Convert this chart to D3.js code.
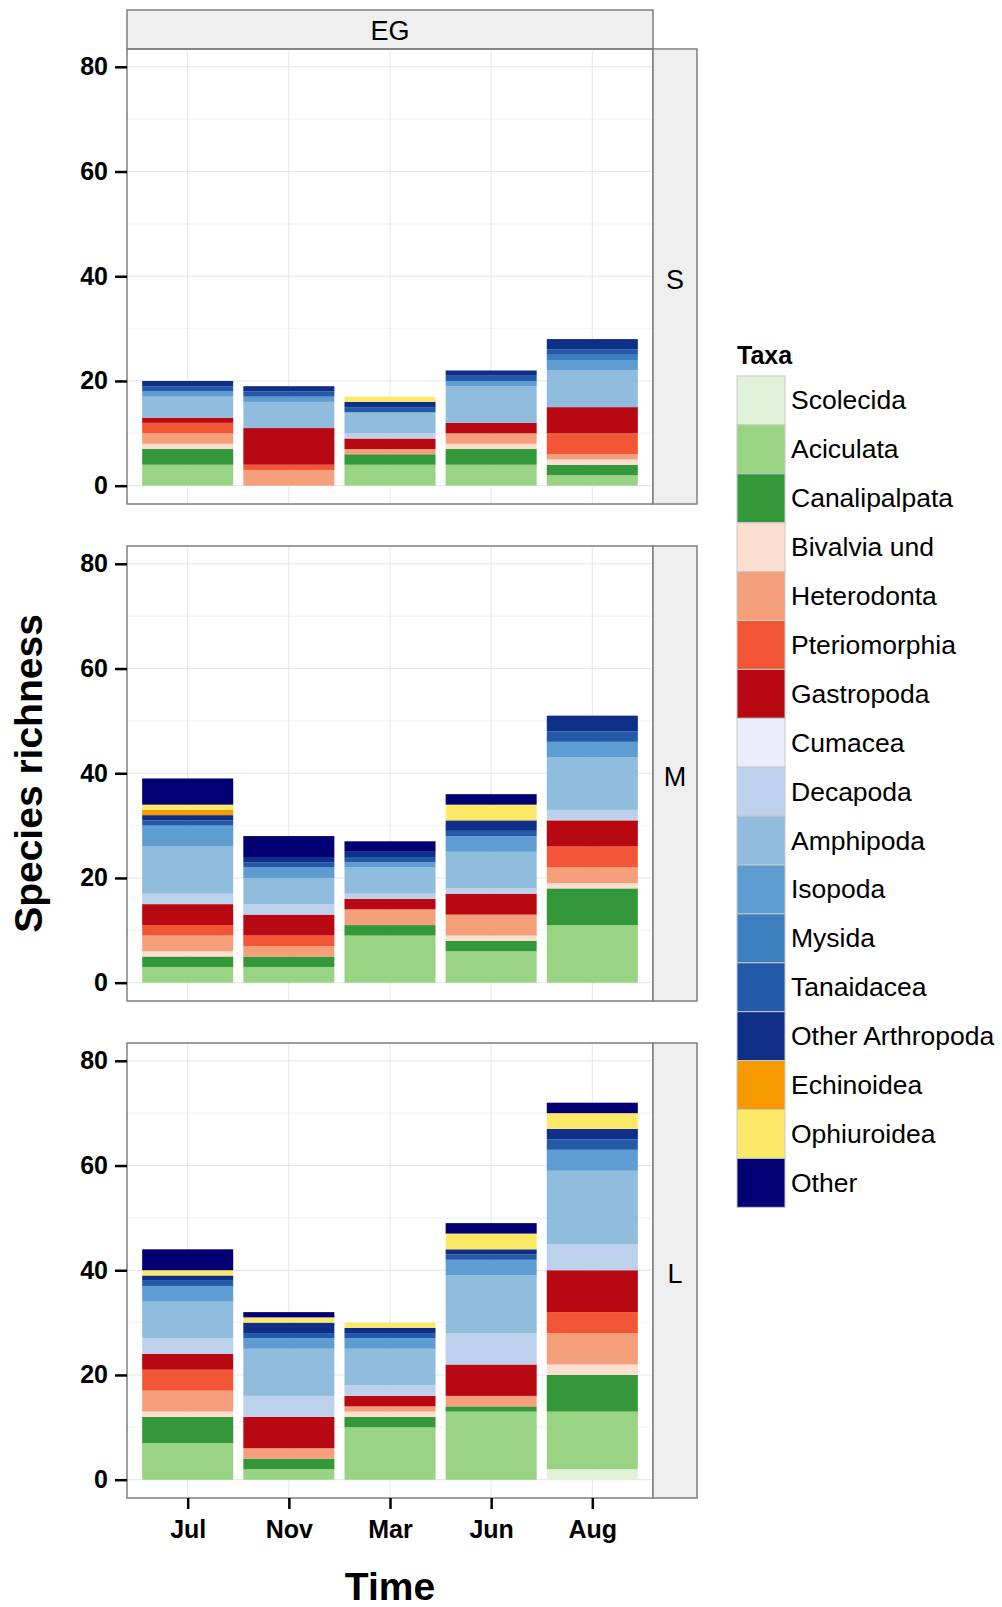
<!DOCTYPE html>
<html>
<head>
<meta charset="utf-8">
<script src="https://cdn.jsdelivr.net/npm/d3@7"></script>
<style>
  body { margin: 0; background: #fff; }
  svg text { font-family: "Liberation Sans", Arial, sans-serif; }
</style>
</head>
<body>
<div id="chart"></div>
<script>
// categories
const months = ['Jul', 'Nov', 'Mar', 'Jun', 'Aug'];
const sites = ['S', 'M', 'L'];
const taxa = ['Scolecida', 'Aciculata', 'Canalipalpata', 'Bivalvia und', 'Heterodonta',
  'Pteriomorphia', 'Gastropoda', 'Cumacea', 'Decapoda', 'Amphipoda', 'Isopoda', 'Mysida',
  'Tanaidacea', 'Other Arthropoda', 'Echinoidea', 'Ophiuroidea', 'Other'];
const taxaColors = ['#e0f3d8', '#98d483', '#34983a', '#fcdfd0', '#f5a07a', '#f35634', '#b80812',
  '#eaedfb', '#bcd1ec', '#90bcdd', '#5d9dd1', '#3b7fc0', '#2259a8', '#0e2e87', '#f79a00',
  '#fde968', '#020072'];
const yTicks = [0, 20, 40, 60, 80];

// species richness per taxon (rows, in taxa order), columns = months
const richnessS = [
  [0, 0, 0, 0, 0],
  [4, 0, 4, 4, 2],
  [3, 0, 2, 3, 2],
  [1, 0, 0, 1, 1],
  [2, 3, 1, 2, 1],
  [2, 1, 0, 0, 4],
  [1, 7, 2, 2, 5],
  [0, 0, 0, 0, 0],
  [0, 0, 1, 0, 0],
  [4, 5, 4, 7, 7],
  [1, 1, 0, 1, 2],
  [0, 0, 0, 0, 1],
  [1, 1, 1, 1, 1],
  [1, 1, 1, 1, 2],
  [0, 0, 0, 0, 0],
  [0, 0, 1, 0, 0],
  [0, 0, 0, 0, 0],
];
const richnessM = [
  [0, 0, 0, 0, 0],
  [3, 3, 9, 6, 11],
  [2, 2, 2, 2, 7],
  [1, 0, 0, 1, 1],
  [3, 2, 3, 4, 3],
  [2, 2, 0, 0, 4],
  [4, 4, 2, 4, 5],
  [0, 0, 0, 0, 0],
  [2, 2, 1, 1, 2],
  [9, 5, 5, 7, 10],
  [4, 2, 1, 3, 3],
  [0, 0, 0, 0, 0],
  [1, 1, 1, 1, 2],
  [1, 1, 1, 2, 3],
  [1, 0, 0, 0, 0],
  [1, 0, 0, 3, 0],
  [5, 4, 2, 2, 0],
];
const richnessL = [
  [0, 0, 0, 0, 2],
  [7, 2, 10, 13, 11],
  [5, 2, 2, 1, 7],
  [1, 0, 1, 0, 2],
  [4, 2, 1, 2, 6],
  [4, 0, 0, 0, 4],
  [3, 6, 2, 6, 8],
  [0, 0, 0, 0, 0],
  [3, 4, 2, 6, 5],
  [7, 9, 7, 11, 14],
  [3, 2, 2, 3, 4],
  [0, 0, 0, 0, 0],
  [1, 1, 1, 1, 2],
  [1, 2, 1, 1, 2],
  [0, 0, 0, 0, 0],
  [1, 1, 1, 3, 3],
  [4, 1, 0, 2, 2],
];
const richnessBySite = { S: richnessS, M: richnessM, L: richnessL };

const W = 1002, H = 1607;
const panelLeft = 127, panelRight = 653;
const panelTops = [49, 546, 1043];
const panelH = 455;
const stripW = 44;
const tickFont = 25;

const svg = d3.select('#chart').append('svg')
  .attr('width', W)
  .attr('height', H);

const x = d3.scalePoint()
  .domain(months)
  .range([panelLeft, panelRight])
  .padding(0.6);
const barW = x.step() * 0.9;

const color = d3.scaleOrdinal().domain(taxa).range(taxaColors);

// top strip
svg.append('rect')
  .attr('x', panelLeft).attr('y', 10)
  .attr('width', panelRight - panelLeft).attr('height', panelTops[0] - 10)
  .attr('fill', '#efefef').attr('stroke', '#7f7f7f').attr('stroke-width', 1.5);
svg.append('text')
  .attr('x', (panelLeft + panelRight) / 2).attr('y', 31)
  .attr('text-anchor', 'middle').attr('dominant-baseline', 'central')
  .attr('font-size', 27).text('EG');

sites.forEach((site, i) => {
  const top = panelTops[i];
  const y = d3.scaleLinear().domain([-3.5, 83.4]).range([top + panelH, top]);
  const g = svg.append('g').attr('class', `panel-${site}`);

  // minor gridlines
  g.selectAll('.minor')
    .data([10, 30, 50, 70])
    .join('line')
    .attr('x1', panelLeft).attr('x2', panelRight)
    .attr('y1', (d) => y(d)).attr('y2', (d) => y(d))
    .attr('stroke', '#f6f6f6').attr('stroke-width', 1.5);
  // major gridlines
  g.selectAll('.hmajor')
    .data(yTicks)
    .join('line')
    .attr('x1', panelLeft).attr('x2', panelRight)
    .attr('y1', (d) => y(d)).attr('y2', (d) => y(d))
    .attr('stroke', '#e6e6e6').attr('stroke-width', 1);
  g.selectAll('.vmajor')
    .data(months)
    .join('line')
    .attr('x1', (d) => x(d)).attr('x2', (d) => x(d))
    .attr('y1', top).attr('y2', top + panelH)
    .attr('stroke', '#e6e6e6').attr('stroke-width', 1);

  // stacked bars
  const rows = months.map((m, j) => {
    const r = { month: m };
    taxa.forEach((t, k) => { r[t] = richnessBySite[site][k][j]; });
    return r;
  });
  const series = d3.stack().keys(taxa)(rows);
  g.append('g').selectAll('g')
    .data(series)
    .join('g')
    .attr('fill', (d) => color(d.key))
    .selectAll('rect')
    .data((d) => d.filter((v) => v[1] > v[0]))
    .join('rect')
    .attr('x', (d) => x(d.data.month) - barW / 2)
    .attr('width', barW)
    .attr('y', (d) => y(d[1]))
    .attr('height', (d) => y(d[0]) - y(d[1]));

  // panel border
  g.append('rect')
    .attr('x', panelLeft).attr('y', top)
    .attr('width', panelRight - panelLeft).attr('height', panelH)
    .attr('fill', 'none').attr('stroke', '#7f7f7f').attr('stroke-width', 1.5);

  // right strip
  g.append('rect')
    .attr('x', panelRight).attr('y', top)
    .attr('width', stripW).attr('height', panelH)
    .attr('fill', '#efefef').attr('stroke', '#7f7f7f').attr('stroke-width', 1.5);
  g.append('text')
    .attr('x', panelRight + stripW / 2).attr('y', top + panelH / 2 + 3)
    .attr('text-anchor', 'middle').attr('dominant-baseline', 'central')
    .attr('font-size', 27).text(site);

  // y axis
  const yAxis = g.append('g')
    .attr('transform', `translate(${panelLeft},0)`)
    .call(d3.axisLeft(y).tickValues(yTicks).tickSize(12).tickPadding(7));
  yAxis.select('.domain').remove();
  yAxis.selectAll('line').attr('stroke', '#000').attr('stroke-width', 2.5);
  yAxis.selectAll('text')
    .attr('font-size', tickFont).attr('font-weight', 'bold').attr('fill', '#000')
    .attr('font-family', '"Liberation Sans", Arial, sans-serif');

  if (i === sites.length - 1) {
    const xAxis = g.append('g')
      .attr('transform', `translate(0,${top + panelH})`)
      .call(d3.axisBottom(x).tickSize(11).tickPadding(11));
    xAxis.select('.domain').remove();
    xAxis.selectAll('line').attr('stroke', '#000').attr('stroke-width', 2.5);
    xAxis.selectAll('text')
      .attr('font-size', tickFont).attr('font-weight', 'bold').attr('fill', '#000')
      .attr('font-family', '"Liberation Sans", Arial, sans-serif');
  }
});

// axis titles
svg.append('text')
  .attr('x', (panelLeft + panelRight) / 2).attr('y', 1600)
  .attr('text-anchor', 'middle')
  .attr('font-size', 39).attr('font-weight', 'bold')
  .text('Time');
svg.append('text')
  .attr('transform', `translate(42,${(panelTops[0] + panelTops[2] + panelH) / 2}) rotate(-90)`)
  .attr('text-anchor', 'middle')
  .attr('font-size', 39).attr('font-weight', 'bold')
  .text('Species richness');

// legend
const legend = svg.append('g').attr('transform', 'translate(737,376)');
const keyH = 48.9, keyW = 48;
legend.append('text')
  .attr('x', 0).attr('y', -12)
  .attr('font-size', 25).attr('font-weight', 'bold')
  .text('Taxa');
const item = legend.selectAll('g')
  .data(taxa)
  .join('g')
  .attr('transform', (d, k) => `translate(0,${k * keyH})`);
item.append('rect')
  .attr('width', keyW).attr('height', keyH)
  .attr('fill', (d) => color(d))
  .attr('stroke', '#c8c8c8').attr('stroke-width', 1);
item.append('text')
  .attr('x', keyW + 6).attr('y', keyH / 2)
  .attr('dominant-baseline', 'central')
  .attr('font-size', 26.5)
  .text((d) => d);
</script>
</body>
</html>
